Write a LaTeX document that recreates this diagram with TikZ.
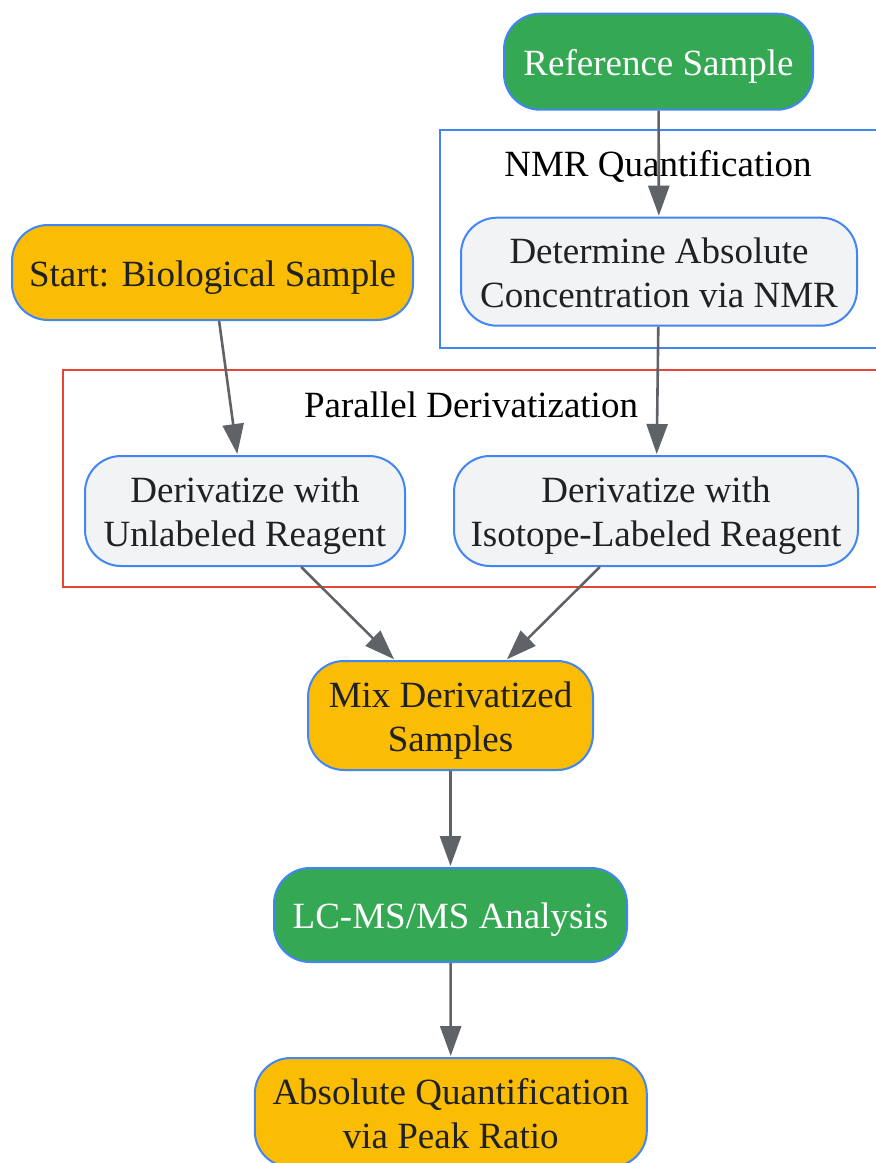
\documentclass[tikz,border=0pt]{standalone}
\usepackage{fontspec}
\setmainfont{Liberation Serif}
\usetikzlibrary{arrows.meta}
\definecolor{gGreen}{HTML}{34A853}
\definecolor{gYellow}{HTML}{FBBC04}
\definecolor{gGrey}{HTML}{F1F3F4}
\definecolor{gBlue}{HTML}{4285F4}
\definecolor{gRed}{HTML}{EA4335}
\definecolor{gArrow}{HTML}{5F6368}
\definecolor{gText}{HTML}{202124}
\newcommand{\lnstrut}{\rule[-10pt]{0pt}{47pt}}
\newcommand{\topstrut}{\rule{0pt}{37pt}}
\newcommand{\botstrut}{\rule[-10pt]{0pt}{10pt}}
\tikzset{
  box/.style={draw=gBlue, line width=2pt, rounded corners=36pt, align=center, inner sep=0pt,
    font=\fontsize{37}{44}\selectfont, text=gText},
  greenbox/.style={box, fill=gGreen, text=white},
  yellowbox/.style={box, fill=gYellow},
  greybox/.style={box, fill=gGrey},
  cluster/.style={line width=2pt},
  clusterlabel/.style={font=\fontsize{37}{44}\selectfont, text=black},
  flow/.style={draw=gArrow, line width=2.6pt, -{Triangle[length=30pt,width=21pt]}, shorten >=1pt},
}
\begin{document}
\begin{tikzpicture}[x=1pt,y=-1pt]
\useasboundingbox (0,0) rectangle (876,1163);
% clusters
\draw[cluster, draw=gBlue] (880,130) -- (440,130) -- (440,348) -- (880,348);
\node[clusterlabel] (nmrlabel) at (658,166) {NMR Quantification};
\draw[cluster, draw=gRed] (880,370) -- (63,370) -- (63,587) -- (880,587);
\node[clusterlabel] (parlabel) at (471,405) {Parallel Derivatization};
% nodes
\node[greenbox, minimum width=309pt, minimum height=96pt] (ref) at (658.5,61.7) {\lnstrut Reference Sample};
\node[greybox, minimum width=396pt, minimum height=108pt] (det) at (659,271.7) {\topstrut Determine Absolute\\\botstrut Concentration via NMR};
\node[yellowbox, minimum width=401pt, minimum height=95pt] (start) at (212.5,272.5) {\lnstrut Start: Biological Sample};
\node[greybox, minimum width=320pt, minimum height=110pt] (unl) at (245,511) {\topstrut Derivatize with\\\botstrut Unlabeled Reagent};
\node[greybox, minimum width=404pt, minimum height=110pt] (iso) at (656,511) {\topstrut Derivatize with\\\botstrut Isotope-Labeled Reagent};
\node[yellowbox, minimum width=285pt, minimum height=109pt] (mix) at (450.5,715.5) {\topstrut Mix Derivatized\\\botstrut Samples};
\node[greenbox, minimum width=353pt, minimum height=94pt] (lc) at (450.5,915) {\lnstrut LC-MS/MS Analysis};
\node[yellowbox, minimum width=392pt, minimum height=109pt] (abs) at (450.8,1112.5) {\topstrut Absolute Quantification\\\botstrut via Peak Ratio};
% connectors
\draw[flow] (ref) -- (det);
\draw[flow] (start) -- (unl);
\draw[flow] (det) -- (iso);
\draw[flow] (unl) -- (mix);
\draw[flow] (iso) -- (mix);
\draw[flow] (mix) -- (lc);
\draw[flow] (lc) -- (abs);
\end{tikzpicture}
\end{document}
